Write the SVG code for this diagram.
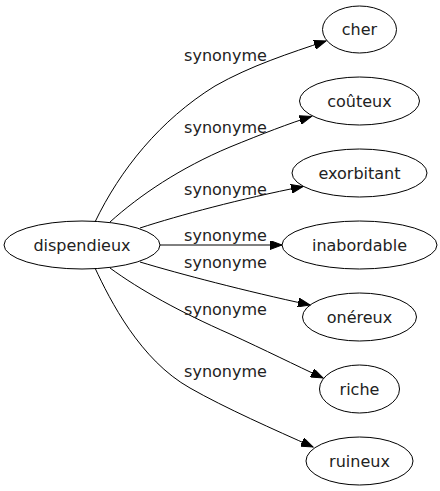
<svg xmlns="http://www.w3.org/2000/svg" width="440" height="491" viewBox="0 0 440 491">
<style>
.node ellipse{fill:none;stroke:#000;stroke-width:1}
text{font-family:"DejaVu Sans","Noto Sans",sans-serif;font-size:16px;fill:#222;text-anchor:middle}
.edges path{fill:none;stroke:#000;stroke-width:1;marker-end:url(#arr)}
</style>
<defs>
<marker id="arr" markerUnits="userSpaceOnUse" markerWidth="13" markerHeight="9" refX="12" refY="4.5" orient="auto">
<path d="M0,0 L12,4.5 L0,9 z" fill="#000" stroke="#000" stroke-width="1"/>
</marker>
</defs>
<rect width="440" height="491" fill="#fff"/>
<g class="edges" id="edges">
<path d="M95,222 C120,170 160,120 215,86 C250,66 290,53 326,41"/>
<path d="M110,222 C140,195 180,168 230,147 C262,134 290,123 311.5,116.5"/>
<path d="M140,228 C180,215 240,199 303,186.5"/>
<path d="M160,245 L282,245"/>
<path d="M140,262 C180,274 245,291 310,305"/>
<path d="M110,268 C140,290 180,312 230,334 C265,350 295,365 323,378"/>
<path d="M95,268 C110,300 140,360 190,388 C225,408 275,430 313,447"/>
</g>
<g class="labels">
<text x="225.5" y="60.5">synonyme</text>
<text x="225.5" y="132.5">synonyme</text>
<text x="225.5" y="195">synonyme</text>
<text x="225.5" y="240.5">synonyme</text>
<text x="225.5" y="267.5">synonyme</text>
<text x="225.5" y="315">synonyme</text>
<text x="225.5" y="377">synonyme</text>
</g>
<g class="node" id="dispendieux"><ellipse cx="82" cy="245" rx="78" ry="24"/><text x="82" y="250.7">dispendieux</text></g>
<g class="node" id="cher"><ellipse cx="359.5" cy="29.5" rx="37" ry="23.5"/><text x="359.5" y="35.2">cher</text></g>
<g class="node" id="couteux"><ellipse cx="359.5" cy="101" rx="60" ry="24"/><text x="359.5" y="106.7">coûteux</text></g>
<g class="node" id="exorbitant"><ellipse cx="359.5" cy="173" rx="67.5" ry="24"/><text x="359.5" y="178.7">exorbitant</text></g>
<g class="node" id="inabordable"><ellipse cx="359.5" cy="245" rx="77.5" ry="24"/><text x="359.5" y="250.7">inabordable</text></g>
<g class="node" id="onereux"><ellipse cx="359.5" cy="317" rx="57" ry="24"/><text x="359.5" y="322.7">onéreux</text></g>
<g class="node" id="riche"><ellipse cx="359.5" cy="389" rx="40" ry="24"/><text x="359.5" y="394.7">riche</text></g>
<g class="node" id="ruineux"><ellipse cx="359.5" cy="461" rx="53.5" ry="24"/><text x="359.5" y="466.7">ruineux</text></g>
</svg>
